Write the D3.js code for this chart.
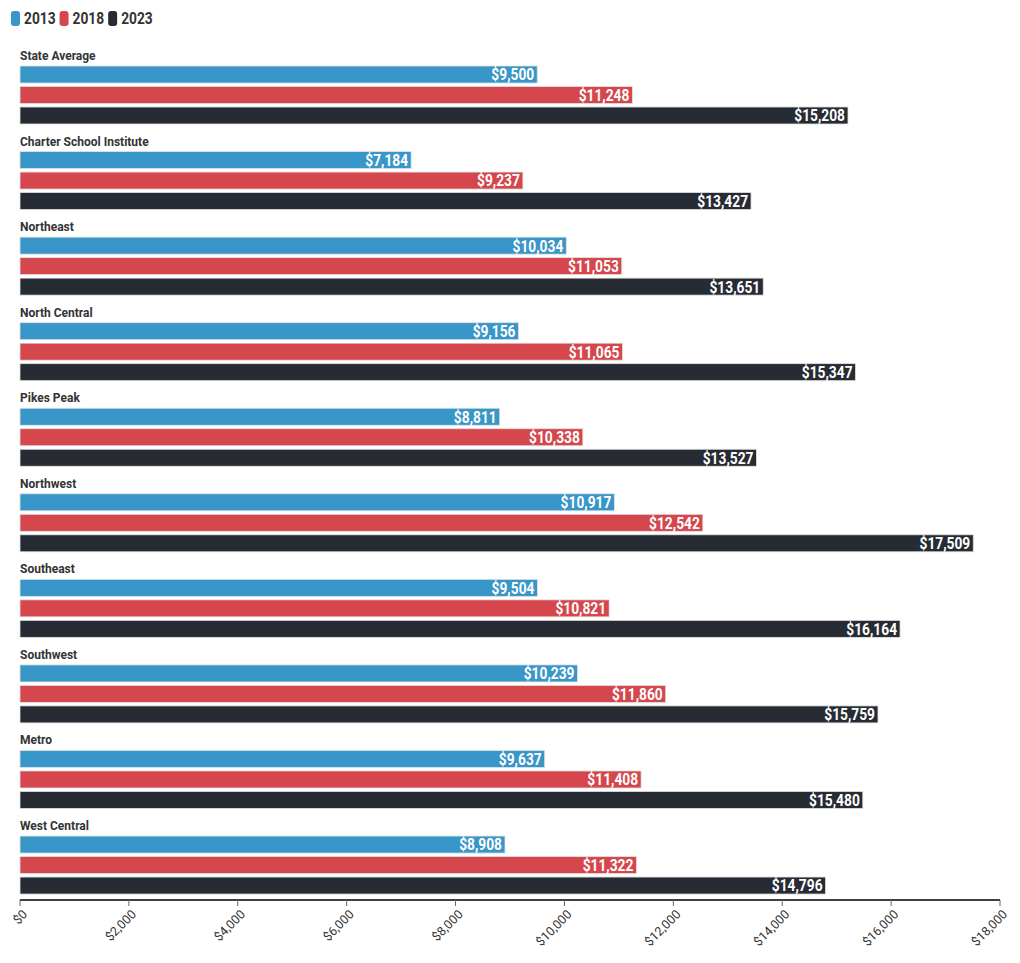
<!DOCTYPE html>
<html><head><meta charset="utf-8">
<script src="https://cdn.jsdelivr.net/npm/d3@7"></script>
<style>
body{margin:0;background:#fff;font-family:Roboto,"Noto Sans",sans-serif;}
</style></head>
<body><svg id="chart" width="1020" height="963"></svg>
<script>
const categories = ["State Average","Charter School Institute","Northeast","North Central","Pikes Peak","Northwest","Southeast","Southwest","Metro","West Central"];
const seriesNames = ["2013","2018","2023"];
const values2013 = [9500,7184,10034,9156,8811,10917,9504,10239,9637,8908];
const values2018 = [11248,9237,11053,11065,10338,12542,10821,11860,11408,11322];
const values2023 = [15208,13427,13651,15347,13527,17509,16164,15759,15480,14796];
const tickValues = [0,2000,4000,6000,8000,10000,12000,14000,16000,18000];
const colors = ["#3996c8","#d5474d","#272c34"];

const seriesValues = [values2013, values2018, values2023];
const svg = d3.select("#chart");
const fmt = d3.format("$,");
const squeeze = 0.86;

const x = d3.scaleLinear().domain([0,18000]).range([20,1000]);
const yGroup = d3.scaleBand().domain(categories).range([46, 46 + 85.56*10]);
const yInner = d3.scaleBand().domain(seriesNames).range([0,58]).paddingInner(0.17);

function condense(t){
  const len = t.node().getComputedTextLength();
  t.attr("textLength", len*squeeze).attr("lengthAdjust","spacingAndGlyphs");
  return len*squeeze;
}

// legend
const leg = svg.append("g");
let lx = 11;
seriesNames.forEach((s,i)=>{
  leg.append("rect").attr("x",lx).attr("y",11).attr("width",9).attr("height",15).attr("rx",3).attr("fill",colors[i]);
  const t = leg.append("text").attr("x",lx+13).attr("y",24).text(s)
    .attr("font-size",16).attr("font-weight",700).attr("fill","#333");
  lx += 13 + condense(t) + 4;
});

const groups = svg.append("g").selectAll("g").data(categories).join("g")
  .attr("transform", d=>`translate(0,${yGroup(d)})`);

groups.append("text").attr("x",20).attr("y",14).text(d=>d)
  .attr("font-size",12).attr("font-weight",700).attr("fill","#333");

groups.each(function(cat,ci){
  const g = d3.select(this);
  seriesNames.forEach((s,si)=>{
    const v = seriesValues[si][ci];
    const yy = 20 + yInner(s);
    const h = yInner.bandwidth();
    g.append("rect").attr("x",x(0)).attr("y",yy).attr("width",x(v)-x(0)).attr("height",h)
      .attr("fill",colors[si]).attr("stroke","#e2e2e2").attr("stroke-width",0.8);
    const t = g.append("text").attr("x",x(v)-3).attr("y",yy+h/2).attr("dy","0.37em")
      .attr("text-anchor","end").attr("font-size",16).attr("font-weight",700)
      .attr("fill","#fff").text(fmt(v));
    condense(t);
  });
});

// axis
const axisY = 900;
const axis = svg.append("g").attr("transform",`translate(0,${axisY})`);
axis.append("line").attr("x1",x(0)).attr("x2",x(18000)).attr("stroke","#000").attr("stroke-width",1.5);
axis.selectAll("line.tick").data(tickValues).join("line").attr("class","tick")
  .attr("x1",d=>x(d)).attr("x2",d=>x(d)).attr("y1",0).attr("y2",6).attr("stroke","#666");
axis.selectAll("text").data(tickValues).join("text")
  .attr("transform",d=>`translate(${x(d)+5},${12}) rotate(-45)`)
  .attr("text-anchor","end").attr("dy","0.35em").attr("font-size",12.5).attr("fill","#333")
  .text(d=>fmt(d));
</script></body></html>
